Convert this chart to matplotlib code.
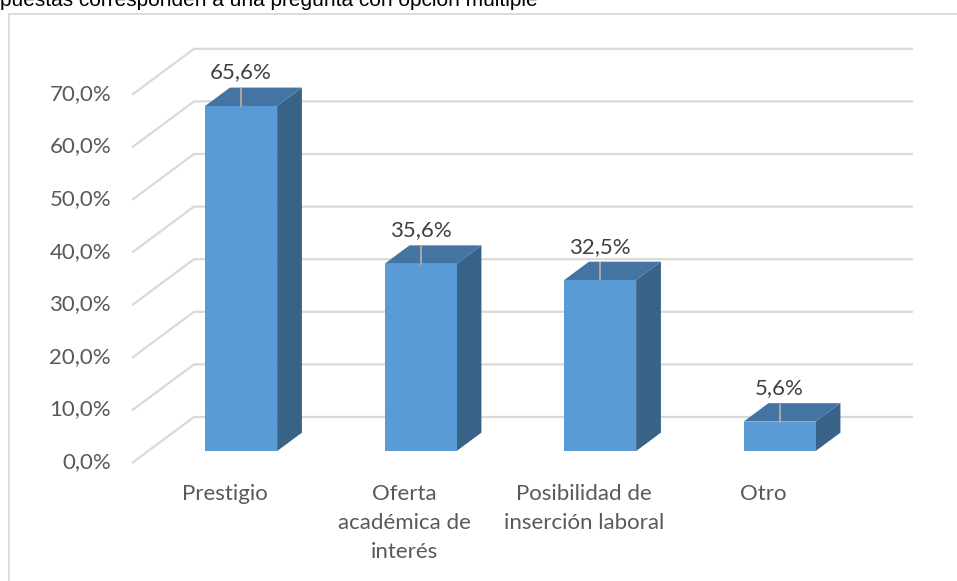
import matplotlib
matplotlib.use("Agg")
import matplotlib.pyplot as plt
from matplotlib.patches import Polygon

# ---- data ----
categories = ["Prestigio", "Oferta\nacadémica de\ninterés", "Posibilidad de\ninserción laboral", "Otro"]
values = [65.6, 35.6, 32.5, 5.6]
value_labels = ["65,6%", "35,6%", "32,5%", "5,6%"]
ticks = [0, 10, 20, 30, 40, 50, 60, 70]
tick_labels = ["0,0%", "10,0%", "20,0%", "30,0%", "40,0%", "50,0%", "60,0%", "70,0%"]
title = "puestas corresponden a una pregunta con opción múltiple"

# ---- geometry (pixel mapping of the front floor plane) ----
W, H = 957, 581
PX_X0, PX_PER_CAT = 225.0, 179.5   # category 0 centre at depth 0
PX_Y0, PX_PER_PCT = 463.0, 5.26    # 0 % at depth 0
DX = 62 / PX_PER_CAT               # oblique offset for full depth
DY = 46 / PX_PER_PCT
D0, D1 = 0.26, 0.66                # bar depth range
HALF_W = 36 / PX_PER_CAT

def proj(x, y, d):
    return (x + d * DX, y + d * DY)

fig = plt.figure(figsize=(W / 100, H / 100), dpi=100)
ax = fig.add_axes([0, 0, 1, 1])
ax.set_xlim(-PX_X0 / PX_PER_CAT, (W - PX_X0) / PX_PER_CAT)
ax.set_ylim((PX_Y0 - H) / PX_PER_PCT, PX_Y0 / PX_PER_PCT)
ax.axis("off")

font = "Lato"
grid_c = "#D9D9D9"
x_left = (132 - PX_X0) / PX_PER_CAT
x_right = (913 - PX_X0 - 62) / PX_PER_CAT

# gridlines (floor diagonal + back wall)
for v, lab in zip(ticks, tick_labels):
    p0 = proj(x_left, v, 0)
    p1 = proj(x_left, v, 1)
    p2 = proj(x_right, v, 1)
    ax.plot([p0[0], p1[0], p2[0]], [p0[1], p1[1], p2[1]], color=grid_c, lw=1.6,
            zorder=1, solid_capstyle="butt")
    ax.text(x_left - 21 / PX_PER_CAT, v + 1 / PX_PER_PCT, lab, ha="right", va="center",
            fontsize=16, color="#595959", family=font)

front_c, top_c, side_c = "#5B9BD5", "#4474A1", "#396287"
for i, (v, vl) in enumerate(zip(values, value_labels)):
    xl, xr = i - HALF_W, i + HALF_W
    side = [proj(xr, 0, D0), proj(xr, 0, D1), proj(xr, v, D1), proj(xr, v, D0)]
    top = [proj(xl, v, D0), proj(xr, v, D0), proj(xr, v, D1), proj(xl, v, D1)]
    front = [proj(xl, 0, D0), proj(xr, 0, D0), proj(xr, v, D0), proj(xl, v, D0)]
    ax.add_patch(Polygon(side, closed=True, fc=side_c, ec="none", zorder=3))
    ax.add_patch(Polygon(top, closed=True, fc=top_c, ec="none", zorder=3))
    ax.add_patch(Polygon(front, closed=True, fc=front_c, ec="none", zorder=4))
    cx, fy = proj(i, v, D0)
    _, by = proj(i, v, D1)
    ax.plot([cx, cx], [fy, by - 0.3], color="#A6A6A6", lw=1.5, zorder=5)
    ax.text(cx, by + 15 / PX_PER_PCT, vl, ha="center", va="center",
            fontsize=16, color="#404040", family=font, zorder=6)
    ax.text(i, -21 / PX_PER_PCT, categories[i], ha="center", va="top",
            fontsize=16, color="#595959", family=font, linespacing=1.55)

# chart frame
fig.add_artist(plt.Line2D([8.5 / W, 8.5 / W], [0, 1 - 13.5 / H], color=grid_c, lw=1.3,
                          transform=fig.transFigure))
fig.add_artist(plt.Line2D([8.5 / W, 1], [1 - 13.5 / H, 1 - 13.5 / H], color=grid_c, lw=1.3,
                          transform=fig.transFigure))

fig.text(0.0 / W, 1 - 6 / H, title, ha="left", va="baseline", fontsize=15,
         family="Liberation Sans", color="#000000")

fig.savefig("out.png", dpi=100)
